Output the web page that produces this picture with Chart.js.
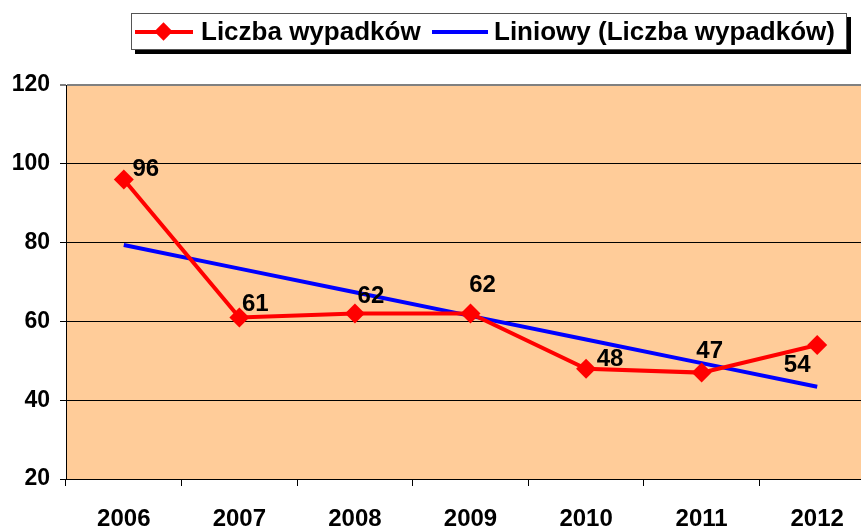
<!DOCTYPE html>
<html>
<head>
<meta charset="utf-8">
<script src="https://cdn.jsdelivr.net/npm/chart.js@4"></script>
<style>
  html, body { margin: 0; padding: 0; background: #fff; overflow: hidden; }
  #wrap { position: relative; width: 885px; height: 529px; }
  #legend {
    position: absolute; left: 131px; top: 13px; width: 714px; height: 35px;
    border: 1px solid #555; background: #fff; box-shadow: 4px 4px 0 #000;
    font: bold 26px "Liberation Sans", Arial, sans-serif; color: #000;
    white-space: nowrap;
  }
  .item { position: absolute; top: 0; height: 35px; line-height: 35px; }
  .swatch { position: absolute; top: 16px; height: 4px; }
  .diamond { position: absolute; left: 22px; top: -5px; width: 13px; height: 13px; background: #f00; transform: rotate(45deg); }
</style>
</head>
<body>
<div id="wrap">
  <canvas id="AccidentChart" width="885" height="529"></canvas>
  <div id="legend"></div>
</div>
<script>
const years = ['2006', '2007', '2008', '2009', '2010', '2011', '2012'];
const accidents = [96, 61, 62, 62, 48, 47, 54];
const trend = [79.4, 73.4, 67.4, 61.4, 55.4, 49.4, 43.4];
const seriesNames = ['Liczba wypadków', 'Liniowy (Liczba wypadków)'];
const yTicks = [20, 40, 60, 80, 100, 120];

const canvas = document.getElementById('AccidentChart');
const ctx = canvas.getContext('2d');
const fontFamily = '"Liberation Sans", Arial, sans-serif';

// where each value label sits relative to its marker
const labelOffsets = [[22, -10], [16, -13], [16, -17], [12, -28], [24, -9], [8, -21], [-20, 20]];

const plotBackground = {
    id: 'plotBackground',
    beforeDraw(chart) {
        const a = chart.chartArea;
        chart.ctx.save();
        chart.ctx.fillStyle = '#FFCC99';
        chart.ctx.fillRect(a.left, a.top, a.right - a.left, a.bottom - a.top);
        chart.ctx.restore();
    }
};

const valueLabels = {
    id: 'valueLabels',
    afterDatasetsDraw(chart) {
        const meta = chart.getDatasetMeta(0);
        const c = chart.ctx;
        c.save();
        c.font = 'bold 24px ' + fontFamily;
        c.fillStyle = '#000';
        c.textAlign = 'center';
        c.textBaseline = 'middle';
        meta.data.forEach((pt, i) => {
            const off = labelOffsets[i];
            c.fillText(String(accidents[i]), pt.x + off[0], pt.y + off[1]);
        });
        c.restore();
    }
};

const chart = new Chart(ctx, {
    type: 'line',
    data: {
        labels: years,
        datasets: [
            {
                label: seriesNames[0],
                data: accidents,
                borderColor: '#FF0000',
                backgroundColor: '#FF0000',
                borderWidth: 4,
                pointStyle: 'rectRot',
                pointRadius: 10,
                pointBackgroundColor: '#FF0000',
                pointBorderColor: '#FF0000',
                pointBorderWidth: 0,
                tension: 0
            },
            {
                label: seriesNames[1],
                data: trend,
                borderColor: '#0000FF',
                backgroundColor: '#0000FF',
                borderWidth: 4,
                pointRadius: 0,
                tension: 0
            }
        ]
    },
    options: {
        responsive: false,
        animation: false,
        layout: { padding: { top: 85, right: 0, left: 0, bottom: 0 } },
        plugins: {
            legend: { display: false },
            tooltip: { enabled: false }
        },
        scales: {
            x: {
                offset: true,
                grid: {
                    offset: true,
                    drawOnChartArea: false,
                    drawTicks: true,
                    tickLength: 7,
                    color: '#000'
                },
                border: { color: '#000', width: 1 },
                ticks: {
                    color: '#000',
                    padding: 19,
                    maxRotation: 0,
                    font: { size: 24, weight: 'bold', family: fontFamily }
                },
                afterFit: (scale) => { scale.height = 50; }
            },
            y: {
                min: 20,
                max: 120,
                afterBuildTicks: (scale) => { scale.ticks = yTicks.map(v => ({ value: v })); },
                grid: {
                    color: (c) => c.tick && c.tick.value === 120 ? '#808080' : '#000',
                    lineWidth: (c) => c.tick && c.tick.value === 120 ? 2 : 1,
                    tickLength: 6,
                    drawTicks: true
                },
                border: { color: '#000', width: 1 },
                ticks: {
                    color: '#000',
                    padding: 10,
                    font: { size: 23, weight: 'bold', family: fontFamily }
                },
                afterFit: (scale) => { scale.width = 66; }
            }
        }
    },
    plugins: [plotBackground, valueLabels]
});

// legend drawn as html so it can carry the box shadow
const legend = document.getElementById('legend');
legend.innerHTML =
    '<div class="item" style="left:3px"><div class="swatch" style="left:0;width:58px;background:#f00"><div class="diamond"></div></div>' +
    '<span style="position:absolute;left:66px">' + seriesNames[0] + '</span></div>' +
    '<div class="item" style="left:300px"><div class="swatch" style="left:0;width:56px;background:#00f"></div>' +
    '<span style="position:absolute;left:62px">' + seriesNames[1] + '</span></div>';
</script>
</body>
</html>
